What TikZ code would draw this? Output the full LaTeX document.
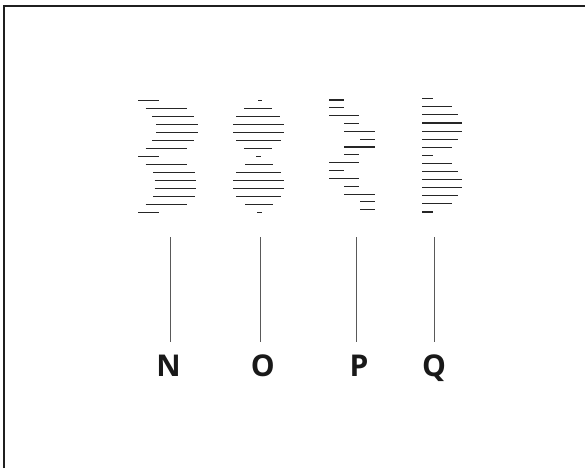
\documentclass[tikz,border=0pt]{standalone}
\usepackage{fontspec}
\setmainfont{Open Sans}
\begin{document}
\begin{tikzpicture}[x=1pt,y=-1pt,
  hl/.style={line width=1.1pt,color=black!85},
  vl/.style={line width=1pt,color=black!65},
  frame/.style={line width=2.4pt,color=black!88},
  lbl/.style={font=\fontsize{30}{30}\selectfont\bfseries,text=black!90,anchor=base,inner sep=0pt}]
\useasboundingbox (0,0) rectangle (585,468);
\draw[frame] (4,468) -- (4,6.2) -- (585,6.2);
% N stack
\foreach \a/\b [count=\i from 0] in {138.3/159.3,145.7/187.3,152/193.7,156/197.7,156/197.7,152/193.7,145.7/187.3,138.3/159.3,145.7/187.3,153.3/194.7,154.7/196,154.7/196,153.3/194.7,145.7/187.3,138.3/159.3}
  \draw[hl] (\a,100.9+\i*7.98) -- (\b,100.9+\i*7.98);
% O stack
\foreach \a/\b [count=\i from 0] in {258/261.7,244.3/272,236/280.3,233/284,233/284,236/281.3,244.3/272,256/260.7,245/272.7,236/281.3,233/284,233/284,236/281.3,245/272.7,257/261.7}
  \draw[hl] (\a,100.9+\i*7.98) -- (\b,100.9+\i*7.98);
% P stack
\foreach \a/\b [count=\i from 0] in {329/344,329/344,329/359.3,344.3/359.3,344.3/375,360/375,344.3/375,344.3/359.3,329/359.3,329/344,329/359.3,344.3/359.3,344.3/375,360/375,360/375}
  \draw[hl] (\a,100+\i*7.84) -- (\b,100+\i*7.84);
% Q stack
\foreach \a/\b [count=\i from 0] in {422/433.3,422/452,422/458,422/462,422/462,422/458,422/452,422/433.3,422/452,422/458,422/462,422/462,422/458,422/452,422/433.3}
  \draw[hl] (\a,98.7+\i*8.09) -- (\b,98.7+\i*8.09);
% labels
\node[lbl] (N) at (168.5,376) {N};
\node[lbl] (O) at (262.7,376) {O};
\node[lbl] (P) at (359,376) {P};
\node[lbl] (Q) at (434,376) {Q};
% vertical lines
\coordinate (nT) at (170.7,237.3); \coordinate (nB) at (170.7,342.3);
\coordinate (oT) at (260.7,237.3); \coordinate (oB) at (260.7,342.3);
\coordinate (pT) at (356.7,237.3); \coordinate (pB) at (356.7,342.3);
\coordinate (qT) at (434,237.3); \coordinate (qB) at (434,342.3);
\draw[vl] (nT) -- (nB);
\draw[vl] (oT) -- (oB);
\draw[vl] (pT) -- (pB);
\draw[vl] (qT) -- (qB);
\end{tikzpicture}
\end{document}
